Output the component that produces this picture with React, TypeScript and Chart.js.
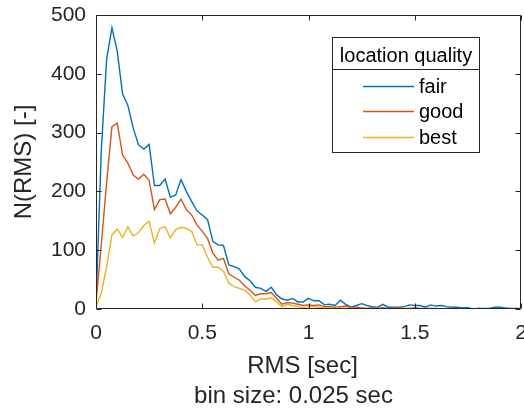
import React, { useEffect, useRef } from "react";
import { Chart, registerables } from "chart.js";

Chart.register(...registerables);

// ---- data ----
const rmsBins = [
  0, 0.025, 0.05, 0.075, 0.1, 0.125, 0.15, 0.175, 0.2, 0.225,
  0.25, 0.275, 0.3, 0.325, 0.35, 0.375, 0.4, 0.425, 0.45, 0.475,
  0.5, 0.525, 0.55, 0.575, 0.6, 0.625, 0.65, 0.675, 0.7, 0.725,
  0.75, 0.775, 0.8, 0.825, 0.85, 0.875, 0.9, 0.925, 0.95, 0.975,
  1, 1.025, 1.05, 1.075, 1.1, 1.125, 1.15, 1.175, 1.2, 1.225,
  1.25, 1.275, 1.3, 1.325, 1.35, 1.375, 1.4, 1.425, 1.45, 1.475,
  1.5, 1.525, 1.55, 1.575, 1.6, 1.625, 1.65, 1.675, 1.7, 1.725,
  1.75, 1.775, 1.8, 1.825, 1.85, 1.875, 1.9, 1.925, 1.95, 1.975,
  2,
];

const fairCounts = [
  10, 270, 425, 478, 438, 366, 346, 308, 279, 272,
  280, 210, 210, 221, 190, 194, 220, 200, 183, 167,
  160, 152, 115, 109, 108, 75, 72, 68, 55, 48,
  37, 35, 30, 37, 24, 17, 15, 18, 12, 12,
  18, 14, 14, 7, 8, 6, 15, 8, 3, 6,
  9, 6, 4, 3, 8, 3, 3, 3, 4, 7,
  6, 6, 3, 7, 5, 6, 4, 3, 3, 2,
  2, 0, 1, 1, 1, 3, 3, 2, 1, 1,
  1,
];

const goodCounts = [
  10, 110, 215, 310, 316, 262, 248, 228, 221, 229,
  219, 169, 186, 187, 162, 173, 187, 169, 160, 143,
  132, 120, 95, 83, 86, 60, 54, 49, 39, 32,
  23, 26, 26, 28, 18, 8, 11, 10, 8, 6,
  7, 6, 7, 4, 4, 3, 4, 5, 2, 3,
  2, 1, 2, 1, 2, 1, 1, 2, 1, 1,
  2, 1, 1, 1, 1, 0, 1, 1, 0, 1,
  0, 0, 1, 0, 0, 1, 0, 1, 0, 0,
  0,
];

const bestCounts = [
  4, 27, 72, 126, 136, 122, 140, 124, 130, 142,
  149, 112, 137, 140, 121, 135, 139, 137, 132, 109,
  109, 88, 71, 71, 64, 44, 38, 35, 32, 24,
  12, 17, 17, 19, 12, 4, 8, 6, 4, 2,
  4, 4, 3, 2, 2, 1, 2, 1, 1, 1,
  0, 1, 0, 1, 0, 0, 1, 0, 0, 1,
  0, 0, 0, 1, 0, 0, 0, 0, 0, 0,
  0, 0, 0, 0, 0, 0, 0, 0, 0, 0,
  0,
];

const seriesNames = ["fair", "good", "best"];
const seriesColors = ["#0072BD", "#D95319", "#EDB120"];
const xTickValues = [0, 0.5, 1, 1.5, 2];
const yTickValues = [0, 100, 200, 300, 400, 500];
const legendTitle = "location quality";
const xTitle = ["RMS [sec]", "bin size: 0.025 sec"];
const yTitle = "N(RMS) [-]";

// ---- styles ----
const FONT = "'Liberation Sans', Arial, Helvetica, sans-serif";
const AXIS = "#262626";

const toPoints = (ys: number[]) => rmsBins.map((x, i) => ({ x, y: ys[i] }));

const boxPlugin = {
  id: "mlBox",
  afterDatasetsDraw(chart: any) {
    const { ctx, chartArea: a, scales } = chart;
    const L = Math.round(a.left) + 0.5;
    const R = Math.round(a.right) - 0.5;
    const T = Math.round(a.top) + 0.5;
    const B = Math.round(a.bottom) - 0.5;
    const tl = 5;
    ctx.save();
    ctx.strokeStyle = AXIS;
    ctx.lineWidth = 1;
    ctx.beginPath();
    ctx.moveTo(L, T);
    ctx.lineTo(R, T);
    ctx.lineTo(R, B);
    ctx.lineTo(L, B);
    ctx.closePath();
    for (const v of xTickValues) {
      const px = Math.round(scales.x.getPixelForValue(v)) + 0.5;
      ctx.moveTo(px, B);
      ctx.lineTo(px, B - tl);
      ctx.moveTo(px, T);
      ctx.lineTo(px, T + tl);
    }
    for (const v of yTickValues) {
      const py = Math.round(scales.y.getPixelForValue(v)) + 0.5;
      ctx.moveTo(L, py);
      ctx.lineTo(L + tl, py);
      ctx.moveTo(R, py);
      ctx.lineTo(R - tl, py);
    }
    ctx.stroke();

    // x-axis label (two lines)
    const cx = (a.left + a.right) / 2;
    ctx.fillStyle = AXIS;
    ctx.font = `24px ${FONT}`;
    ctx.textAlign = "center";
    ctx.textBaseline = "alphabetic";
    ctx.fillText(xTitle[0], cx - 6, a.bottom + 64);
    ctx.fillText(xTitle[1], cx - 15, a.bottom + 94);
    ctx.restore();
  },
};

const legendPlugin = {
  id: "mlLegend",
  afterDraw(chart: any) {
    const ctx = chart.ctx;
    const L = 332.5, T = 37.5, R = 479.5, B = 152.5, sep = 69.5;
    ctx.save();
    ctx.fillStyle = "#ffffff";
    ctx.fillRect(L, T, R - L, B - T);
    ctx.strokeStyle = AXIS;
    ctx.lineWidth = 1;
    ctx.strokeRect(L, T, R - L, B - T);
    ctx.beginPath();
    ctx.moveTo(L, sep);
    ctx.lineTo(R, sep);
    ctx.stroke();
    ctx.font = `20px ${FONT}`;
    ctx.fillStyle = "#000000";
    ctx.textBaseline = "alphabetic";
    ctx.textAlign = "center";
    ctx.fillText(legendTitle, (L + R) / 2, 61.5);
    chart.data.datasets.forEach((ds: any, i: number) => {
      const y = Math.round(86 + i * 25.3) + 0.5;
      ctx.strokeStyle = ds.borderColor;
      ctx.lineWidth = 1.3;
      ctx.beginPath();
      ctx.moveTo(363, y);
      ctx.lineTo(414, y);
      ctx.stroke();
      ctx.textAlign = "left";
      ctx.fillText(ds.label, 419, y + 6.5);
    });
    ctx.restore();
  },
};

export default function App() {
  const ref = useRef<HTMLCanvasElement>(null);

  useEffect(() => {
    const seriesData = [fairCounts, goodCounts, bestCounts];
    const chart = new Chart(ref.current as HTMLCanvasElement, {
      type: "line",
      data: {
        datasets: seriesNames.map((name, i) => ({
          label: name,
          data: toPoints(seriesData[i]),
          borderColor: seriesColors[i],
          backgroundColor: seriesColors[i],
          borderWidth: 1.4,
          pointRadius: 0,
          tension: 0,
          fill: false,
          order: 3 - i,
        })),
      },
      options: {
        animation: false,
        responsive: false,
        devicePixelRatio: 1,
        events: [],
        layout: { padding: { top: 15, right: 9, bottom: 0, left: 0 } },
        plugins: {
          legend: { display: false },
          tooltip: { enabled: false },
        },
        scales: {
          x: {
            type: "linear",
            min: 0,
            max: 2,
            afterFit: (s: any) => {
              s.height = 101;
              s.paddingLeft = 0;
              s.paddingRight = 0;
            },
            grid: { display: false, drawTicks: false },
            border: { display: false },
            afterBuildTicks: (s: any) => {
              s.ticks = xTickValues.map((v) => ({ value: v }));
            },
            ticks: {
              padding: 12,
              color: AXIS,
              maxRotation: 0,
              autoSkip: false,
              font: { family: FONT, size: 21 },
              callback: (v: any) => String(v),
            },
            title: { display: false },
          },
          y: {
            type: "linear",
            min: 0,
            max: 500,
            afterFit: (s: any) => {
              s.width = 96;
              s.paddingTop = 0;
              s.paddingBottom = 0;
            },
            grid: { display: false, drawTicks: false },
            border: { display: false },
            afterBuildTicks: (s: any) => {
              s.ticks = yTickValues.map((v) => ({ value: v }));
            },
            ticks: {
              padding: 10,
              color: AXIS,
              font: { family: FONT, size: 21 },
              callback: (v: any) => String(v),
            },
            title: {
              display: true,
              text: yTitle,
              color: AXIS,
              font: { family: FONT, size: 24, lineHeight: 1.25 },
              padding: { top: 9, bottom: 0 },
            },
          },
        },
      },
      plugins: [boxPlugin, legendPlugin],
    } as any);
    return () => chart.destroy();
  }, []);

  return (
    <div
      style={{
        position: "fixed",
        left: 0,
        top: 0,
        width: 524,
        height: 410,
        overflow: "hidden",
        background: "#ffffff",
      }}
    >
      <canvas
        ref={ref}
        width={530}
        height={410}
        style={{ display: "block", width: 530, height: 410 }}
      />
    </div>
  );
}
